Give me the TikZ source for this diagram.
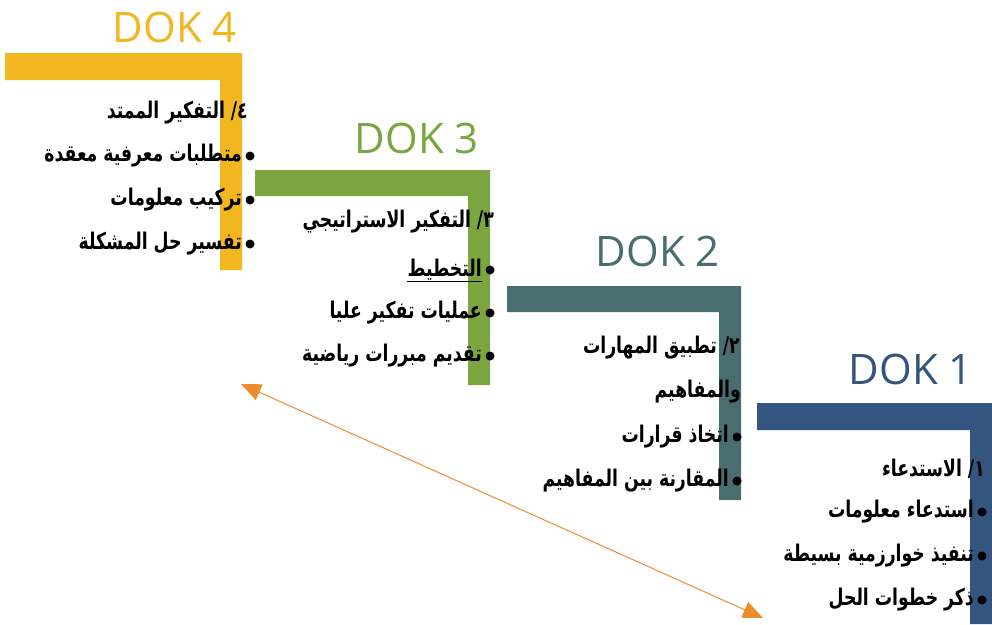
\documentclass[tikz,border=0pt]{standalone}
\usepackage{fontspec}
\setmainfont{Open Sans}
\newfontfamily\arabicfont[Script=Arabic,FakeStretch=0.75]{DejaVu Sans}
\TeXXeTstate=1
\usetikzlibrary{arrows.meta}
\definecolor{dokfour}{HTML}{F2B720}
\definecolor{dokthree}{HTML}{7BA53F}
\definecolor{doktwo}{HTML}{4A6D70}
\definecolor{dokone}{HTML}{33557F}
\definecolor{arroworange}{HTML}{EC8D2C}
\newcommand{\artext}[1]{\arabicfont\bfseries\beginR #1\endR}
\tikzset{
  dok/.style={anchor=base east,inner sep=0pt,font=\fontsize{42}{46}\selectfont},
  item/.style={anchor=east,inner sep=0pt,font=\fontsize{23}{26}\selectfont},
  dot/.style={circle,fill=black,inner sep=0pt,minimum size=9pt},
}
\begin{document}
\begin{tikzpicture}[x=1pt,y=-1pt]
  \useasboundingbox (0,0) rectangle (992,624);
  % steps
  \fill[dokfour] (5,53) -- (242,53) -- (242,270) -- (220,270) -- (220,80) -- (5,80) -- cycle;
  \fill[dokthree] (255,170) -- (490,170) -- (490,385) -- (468,385) -- (468,196) -- (255,196) -- cycle;
  \fill[doktwo] (507,286) -- (741,286) -- (741,500) -- (719,500) -- (719,312) -- (507,312) -- cycle;
  \fill[dokone] (757,403) -- (992,403) -- (992,624) -- (970,624) -- (970,430) -- (757,430) -- cycle;
  \node[dok,text=dokfour] (dok4) at (237,42) {DOK 4};
  \node[dok,text=dokthree] (dok3) at (479,153) {DOK 3};
  \node[dok,text=doktwo] (dok2) at (720,266) {DOK 2};
  \node[dok,text=dokone] (dok1) at (973,384) {DOK 1};
  % DOK 4
  \node[item] (t4) at (248,113) {\artext{٤/ التفكير الممتد}};
  \node[dot] (b41) at (250,156) {};
  \node[item] (i41) at (242,156) {\artext{متطلبات معرفية معقدة}};
  \node[dot] (b42) at (250,200) {};
  \node[item] (i42) at (242,200) {\artext{تركيب معلومات}};
  \node[dot] (b43) at (250,244) {};
  \node[item] (i43) at (242,244) {\artext{تفسير حل المشكلة}};
  % DOK 3
  \node[item] (t3) at (494,222) {\artext{٣/ التفكير الاستراتيجي}};
  \node[dot] (b31) at (490,270) {};
  \node[item] (i31) at (482,270) {\artext{التخطيط}};
  \draw[line width=1pt] ([yshift=-1pt]i31.south west) -- ([yshift=-1pt]i31.south east);
  \node[dot] (b32) at (490,313) {};
  \node[item] (i32) at (482,313) {\artext{عمليات تفكير عليا}};
  \node[dot] (b33) at (490,356) {};
  \node[item] (i33) at (482,356) {\artext{تقديم مبررات رياضية}};
  % DOK 2
  \node[item] (t2) at (740,348) {\artext{٢/ تطبيق المهارات}};
  \node[item] (t2b) at (741,392) {\artext{والمفاهيم}};
  \node[dot] (b21) at (737,437) {};
  \node[item] (i21) at (729,437) {\artext{اتخاذ قرارات}};
  \node[dot] (b22) at (737,481) {};
  \node[item] (i22) at (729,481) {\artext{المقارنة بين المفاهيم}};
  % DOK 1
  \node[item] (t1) at (985,469) {\artext{١/ الاستدعاء}};
  \node[dot] (b11) at (982,512) {};
  \node[item] (i11) at (974,512) {\artext{استدعاء معلومات}};
  \node[dot] (b12) at (982,556) {};
  \node[item] (i12) at (974,556) {\artext{تنفيذ خوارزمية بسيطة}};
  \node[dot] (b13) at (982,600) {};
  \node[item] (i13) at (974,600) {\artext{ذكر خطوات الحل}};
  % arrow
  \coordinate (up) at (241,384);
  \coordinate (down) at (763,618);
  \draw[arroworange,line width=1pt,{Triangle[length=20pt,width=17pt]}-{Triangle[length=20pt,width=17pt]}] (up) -- (down);
\end{tikzpicture}
\end{document}
